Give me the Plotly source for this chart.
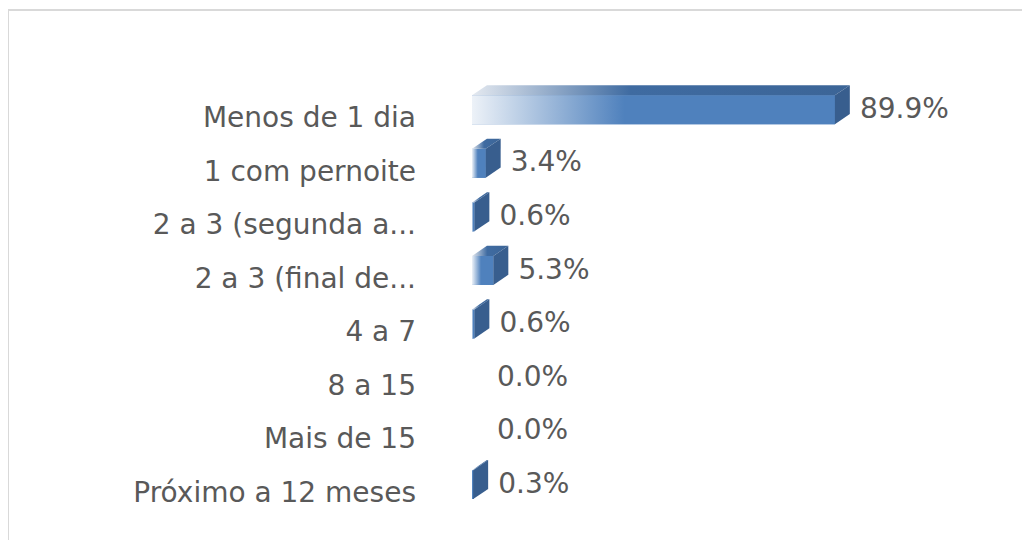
import plotly.graph_objects as go

categories = ["Menos de 1 dia", "1 com pernoite", "2 a 3 (segunda a...", "2 a 3 (final de...",
              "4 a 7", "8 a 15", "Mais de 15", "Próximo a 12 meses"]
values = [89.9, 3.4, 0.6, 5.3, 0.6, 0.0, 0.0, 0.3]
labels = ["89.9%", "3.4%", "0.6%", "5.3%", "0.6%", "0.0%", "0.0%", "0.3%"]

# styling / geometry of the 3D look (in axis units)
FRONT_OFF = -0.41
FRONT_W = 0.54
DX = 3.7
DY = 0.19
LABEL_DX = 6.2
LABEL_DY = -0.12
TXT = "#595959"
FONT = "DejaVu Sans"

L, R, T, B = 464, 38, 45, 13
PW, PH = 1030 - L - R, 540 - T - B

pos = list(range(len(categories)))
fig = go.Figure()

fig.add_trace(go.Bar(
    y=pos, x=values, orientation="h", width=FRONT_W, offset=FRONT_OFF,
    marker=dict(color="#4f81bd", line=dict(width=0)), hoverinfo="skip", showlegend=False,
))

for p, v in zip(pos, values):
    if v <= 0:
        continue
    top = p + FRONT_OFF
    bot = top + FRONT_W
    # front face with gradient
    fig.add_trace(go.Scatter(
        x=[0, v, v, 0, 0], y=[top, top, bot, bot, top], mode="lines", fill="toself",
        line=dict(width=0), hoverinfo="skip", showlegend=False,
        fillgradient=dict(type="horizontal",
                          colorscale=[[0, "#edf2f8"], [0.42, "#4f81bd"], [1, "#4f81bd"]]),
    ))
    # top face
    fig.add_trace(go.Scatter(
        x=[0, v, v + DX, DX, 0], y=[top, top, top - DY, top - DY, top], mode="lines", fill="toself",
        line=dict(width=0), hoverinfo="skip", showlegend=False,
        fillgradient=dict(type="horizontal",
                          colorscale=[[0, "#e4e9f0"], [0.42, "#3f6ba1"], [1, "#3c6597"]]),
    ))
    # side face
    fig.add_trace(go.Scatter(
        x=[v, v + DX, v + DX, v, v], y=[top, top - DY, bot - DY, bot, top], mode="lines", fill="toself",
        line=dict(width=0), fillcolor="#385e8e", hoverinfo="skip", showlegend=False,
    ))

fig.add_trace(go.Scatter(
    x=[v + LABEL_DX for v in values], y=[p + LABEL_DY for p in pos], mode="text",
    text=labels, textposition="middle right",
    textfont=dict(family=FONT, size=28, color=TXT), hoverinfo="skip", showlegend=False,
))

fig.update_layout(
    width=1030, height=540,
    margin=dict(l=L, r=R, t=T, b=B),
    paper_bgcolor="white", plot_bgcolor="white",
    xaxis=dict(range=[0, 130.8], visible=False, fixedrange=True),
    yaxis=dict(range=[7.8, -1.2], tickmode="array", tickvals=pos, ticktext=categories,
               showgrid=False, zeroline=False, showline=False, ticks="",
               ticklabelstandoff=55,
               tickfont=dict(family=FONT, size=28, color=TXT)),
    shapes=[dict(type="rect", xref="paper", yref="paper",
                 x0=(0 - L) / PW, x1=(1060 - L) / PW,
                 y0=-0.2, y1=(540 - B - 2) / PH,
                 line=dict(color="#d9d9d9", width=2), fillcolor="rgba(0,0,0,0)", layer="below")],
)

fig.write_html("out.html")
